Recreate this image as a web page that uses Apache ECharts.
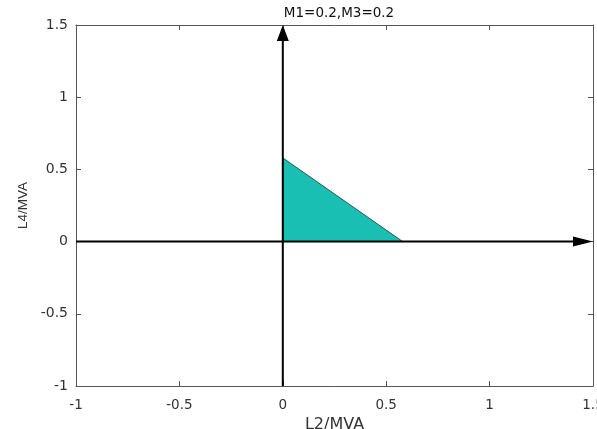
<!DOCTYPE html>
<html>
<head>
<meta charset="utf-8">
<script src="https://cdn.jsdelivr.net/npm/echarts@6/dist/echarts.min.js"></script>
<style>
html,body{margin:0;padding:0;background:#fff;}
#chart{width:597px;height:429px;}
</style>
</head>
<body>
<div id="chart"></div>
<script>
// Operating region in the L2/L4 plane
const titleText = 'M1=0.2,M3=0.2';
const xName = 'L2/MVA';
const yName = 'L4/MVA';
const xRange = [-1, 1.5];
const yRange = [-1, 1.5];
const tickStep = 0.5;
// feasible region vertices (L2, L4)
const regionL2 = [0, 0, 0.58];
const regionL4 = [0, 0.58, 0];
// coordinate axes drawn as arrows: [from, to]
const hAxisArrow = [[-1, 0], [1.5, 0]];
const vAxisArrow = [[0, -1], [0, 1.5]];

const font = 'DejaVu Sans, sans-serif';
const frameColor = '#555';
const textColor = '#333';

const chart = echarts.init(document.getElementById('chart'), null, {renderer: 'canvas'});

const boxAxis = (pos, show) => {
  const horiz = pos === 'top' || pos === 'bottom';
  return {
    type: 'value', position: pos,
    min: horiz ? xRange[0] : yRange[0],
    max: horiz ? xRange[1] : yRange[1],
    interval: tickStep, splitLine: {show: false},
    axisLine: {show: true, onZero: false, lineStyle: {color: frameColor, width: 1}},
    axisTick: {show: true, inside: true, length: 5, lineStyle: {color: frameColor}},
    axisLabel: {show: show}
  };
};

const regionPoints = regionL2.map((x, i) => [x, regionL4[i]]);

// arrow with a filled triangular head whose tip sits on the end point
function arrowShape(api, seg, headLen, headHalf) {
  const a = api.coord(seg[0]);
  const b = api.coord(seg[1]);
  const dx = b[0] - a[0], dy = b[1] - a[1];
  const len = Math.sqrt(dx * dx + dy * dy);
  const ux = dx / len, uy = dy / len;
  const bx = b[0] - ux * headLen, by = b[1] - uy * headLen;
  return [
    {type: 'line', shape: {x1: a[0], y1: a[1], x2: bx, y2: by},
     style: {stroke: '#000', lineWidth: 2}},
    {type: 'polygon',
     shape: {points: [b, [bx - uy * headHalf, by + ux * headHalf], [bx + uy * headHalf, by - ux * headHalf]]},
     style: {fill: '#000'}}
  ];
}

chart.setOption({
  animation: false,
  backgroundColor: '#fff',
  title: {
    text: titleText, left: 334, top: 1, textAlign: 'center',
    textStyle: {fontFamily: font, fontSize: 13.5, fontWeight: 'normal', color: '#111'}
  },
  grid: {left: 76, right: 4, top: 25, bottom: 43, containLabel: false, outerBoundsMode: 'none'},
  xAxis: [
    Object.assign(boxAxis('bottom', true), {
      name: xName, nameLocation: 'middle', nameGap: 21,
      nameTextStyle: {fontFamily: font, fontSize: 16, color: textColor},
      axisLabel: {show: true, margin: 12, fontFamily: font, fontSize: 13.5, color: textColor}
    }),
    boxAxis('top', false)
  ],
  yAxis: [
    Object.assign(boxAxis('left', true), {
      name: yName, nameLocation: 'middle', nameGap: 42,
      nameTextStyle: {fontFamily: 'Liberation Sans, Arial, sans-serif', fontSize: 13.5, color: textColor},
      axisLabel: {show: true, margin: 8, fontFamily: font, fontSize: 14, color: textColor}
    }),
    boxAxis('right', false)
  ],
  series: [
    {
      type: 'custom',
      coordinateSystem: 'cartesian2d',
      data: [0],
      renderItem: function (params, api) {
        const pts = regionPoints.map(p => api.coord(p));
        return {
          type: 'polygon',
          shape: {points: pts},
          style: {fill: '#1abfb3', stroke: '#1f3d3a', lineWidth: 0.8}
        };
      },
      z: 2
    },
    {
      type: 'custom',
      coordinateSystem: 'cartesian2d',
      data: [0],
      silent: true,
      renderItem: function (params, api) {
        return {
          type: 'group',
          children: arrowShape(api, hAxisArrow, 20, 5).concat(arrowShape(api, vAxisArrow, 16, 6))
        };
      },
      z: 3
    }
  ]
});
</script>
</body>
</html>
